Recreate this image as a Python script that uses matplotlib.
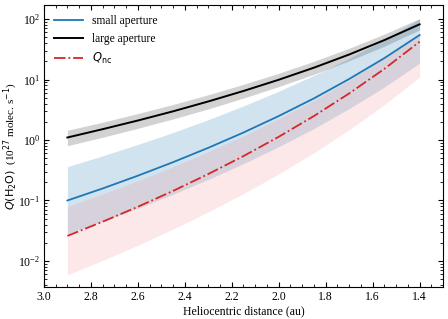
import matplotlib
matplotlib.use("Agg")
import matplotlib.pyplot as plt
from matplotlib.ticker import MultipleLocator

plt.rcParams['font.family'] = ['Liberation Serif', 'DejaVu Serif']
plt.rcParams['mathtext.fontset'] = 'dejavusans'

# heliocentric distance (au)
r = [2.9, 2.75, 2.6, 2.45, 2.3, 2.15, 2.0, 1.85, 1.7, 1.55, 1.4]

# large aperture
q_large = [1.10, 1.51, 2.10, 2.98, 4.34, 6.47, 9.91, 15.7, 25.9, 44.9, 81.8]
q_large_hi = [1.45, 1.97, 2.74, 3.87, 5.61, 8.33, 12.7, 20.0, 32.9, 56.5, 102]
q_large_lo = [0.805, 1.11, 1.56, 2.23, 3.27, 4.93, 7.64, 12.2, 20.4, 35.6, 66.1]

# small aperture
q_small = [0.100, 0.158, 0.257, 0.430, 0.743, 1.33, 2.49, 4.88, 10.2, 22.6, 54.4]
q_small_hi = [0.363, 0.547, 0.843, 1.33, 2.17, 3.66, 6.40, 11.7, 22.4, 45.8, 100]
q_small_lo = [0.0282, 0.0453, 0.0746, 0.127, 0.223, 0.407, 0.776, 1.55, 3.31, 7.53, 18.7]

# Q_nc
q_nc = [0.0260, 0.0446, 0.0787, 0.144, 0.274, 0.542, 1.13, 2.49, 5.89, 15.0, 42.2]
q_nc_hi = [0.0794, 0.128, 0.212, 0.362, 0.640, 1.17, 2.25, 4.54, 9.73, 22.3, 55.8]
q_nc_lo = [0.00589, 0.0102, 0.0182, 0.0336, 0.0648, 0.130, 0.275, 0.614, 1.48, 3.84, 11.0]

fig = plt.figure(figsize=(4.48, 3.19), dpi=100)
ax = fig.add_axes([0.098, 0.100, 0.891, 0.884])

ax.fill_between(r, q_large_lo, q_large_hi, color='gray', alpha=0.35, lw=0)
ax.fill_between(r, q_small_lo, q_small_hi, color='#1f77b4', alpha=0.2, lw=0)
ax.fill_between(r, q_nc_lo, q_nc_hi, color='#f08080', alpha=0.18, lw=0)

ax.plot(r, q_small, color='#1f77b4', lw=1.3, label='small aperture')
ax.plot(r, q_large, color='black', lw=1.4, label='large aperture')
ax.plot(r, q_nc, color='#d62728', lw=1.3, ls='-.', label=r'$Q_{\rm nc}$')

ax.set_yscale('log')
ax.set_xlim(3.0, 1.3)
ax.set_ylim(3.7e-3, 170)
ax.xaxis.set_major_locator(MultipleLocator(0.2))
ax.xaxis.set_minor_locator(MultipleLocator(0.05))
ax.tick_params(which='both', direction='in', top=True, right=True, labelsize=8.5)
ax.tick_params(which='major', length=3.5, pad=2.5)
ax.tick_params(which='minor', length=2)

ax.set_xlabel('Heliocentric distance (au)', fontsize=8.5, labelpad=2)
ax.set_ylabel(r'$Q(\rm H_2O)$  (10$^{27}$ molec. s$^{-1}$)', fontsize=8)
ax.yaxis.set_label_coords(-0.06, 0.5)
ax.legend(loc='upper left', frameon=False, fontsize=8.3, handlelength=2.5)

fig.savefig('out.png', dpi=100)
